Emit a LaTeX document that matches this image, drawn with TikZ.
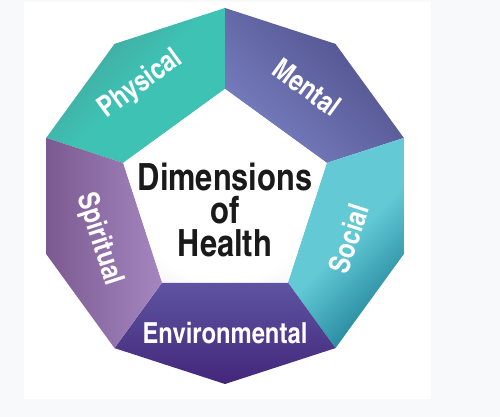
\documentclass[tikz,border=0pt]{standalone}
\usepackage{fontspec}
\newfontfamily\heroscn{texgyreheroscn}[Extension=.otf,UprightFont=*-regular,BoldFont=*-bold]
\definecolor{pagebg}{HTML}{F8F9FB}
\definecolor{physdark}{HTML}{46A098}
\definecolor{physlight}{HTML}{3DC2B4}
\definecolor{mentlight}{HTML}{7880C0}
\definecolor{mentdark}{HTML}{4E4C89}
\definecolor{socilight}{HTML}{62C9D5}
\definecolor{socidark}{HTML}{1F8099}
\definecolor{envitop}{HTML}{5E54A2}
\definecolor{envibot}{HTML}{43267A}
\definecolor{spirdark}{HTML}{7B5A91}
\definecolor{spirlight}{HTML}{A586BF}
\definecolor{titleink}{HTML}{1A1A1A}
\pgfdeclareradialshading{centreglow}{\pgfpoint{0bp}{0bp}}{color(0bp)=(white); color(24bp)=(white); color(38bp)=(black!8); color(50bp)=(black!22)}
\usetikzlibrary{calc}

\begin{document}
\begin{tikzpicture}[x=1pt,y=1pt,
                    lbl/.style={text=white,inner sep=0pt,
                                font=\heroscn\bfseries\fontsize{29}{29}\selectfont},
                    title/.style={text=titleink,inner sep=0pt,align=center,
                                  font=\heroscn\bfseries\fontsize{37.5}{33}\selectfont}]
    \useasboundingbox (-225,-221) rectangle (275,196);
    \fill[pagebg] (-225,-221) rectangle (275,196);
    \fill[white] (-201,194) rectangle (206,-203);
    \shade[top color=physdark,bottom color=physlight,middle color=physlight,shading angle=45]
      (90:188) -- (126:188) -- (162:188) -- (162:107) -- (90:107) -- cycle;
    \shade[top color=mentdark,bottom color=mentlight,shading angle=-45]
      (90:188) -- (54:188) -- (18:188) -- (18:107) -- (90:107) -- cycle;
    \shade[top color=socilight,bottom color=socidark,middle color=socilight,shading angle=45]
      (18:188) -- (-18:188) -- (-54:188) -- (-54:107) -- (18:107) -- cycle;
    \shade[top color=envitop,bottom color=envibot]
      (-54:188) -- (-90:188) -- (-126:188) -- (-126:107) -- (-54:107) -- cycle;
    \shade[left color=spirdark,right color=spirlight]
      (-126:188) -- (-162:188) -- (162:188) -- (162:107) -- (-126:107) -- cycle;
    \shade[shading=centreglow]
      (90:107) -- (162:107) -- (234:107) -- (306:107) -- (18:107) -- cycle;
    \node[lbl,rotate=36] (physical) at (127:140) {Physical};
    \node[lbl,rotate=-36] (mental) at (53:136) {Mental};
    \node[lbl,rotate=72] (social) at (-19:131) {Social};
    \node[lbl] (environmental) at (-90:137) {Environmental};
    \node[lbl,rotate=-72] (spiritual) at (199:133) {Spiritual};
    \node[title] (dimensions) at (0,-14) {Dimensions\\of\\Health};
  \end{tikzpicture}
\end{document}
